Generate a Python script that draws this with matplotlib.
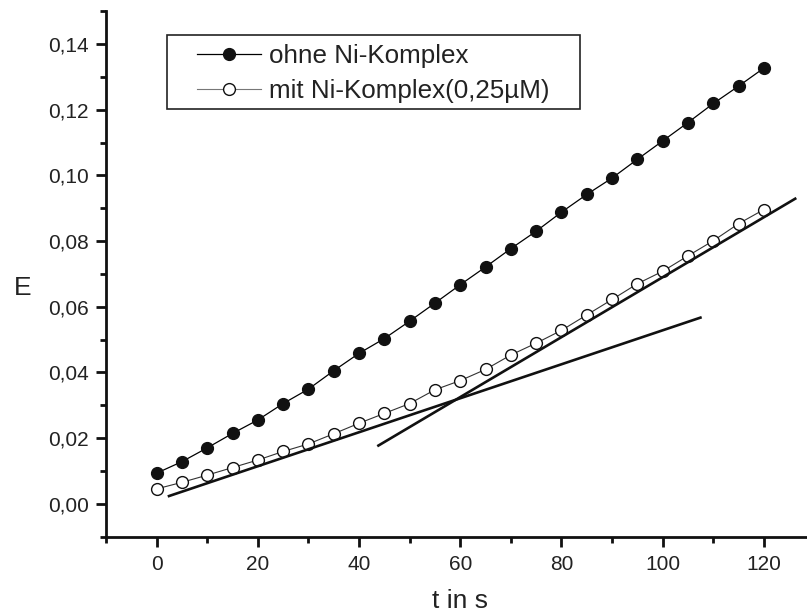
import matplotlib.pyplot as plt
from matplotlib.patches import Rectangle
from matplotlib.ticker import MultipleLocator, FuncFormatter

plt.rcParams['font.family'] = ['Liberation Sans', 'DejaVu Sans']

# Extinktion ueber die Zeit, alle 5 s gemessen
t = [0, 5, 10, 15, 20, 25, 30, 35, 40, 45, 50, 55, 60, 65, 70, 75, 80, 85, 90, 95, 100, 105, 110, 115, 120]
E_ohne = [0.0093, 0.0128, 0.0170, 0.0214, 0.0255, 0.0305, 0.0349, 0.0405, 0.0458, 0.0503, 0.0556, 0.0611,
          0.0667, 0.0721, 0.0777, 0.0830, 0.0888, 0.0942, 0.0992, 0.1049, 0.1105, 0.1161, 0.1219, 0.1272, 0.1327]
E_mit = [0.0045, 0.0065, 0.0087, 0.0110, 0.0133, 0.0159, 0.0182, 0.0213, 0.0245, 0.0275, 0.0305, 0.0347,
         0.0375, 0.0409, 0.0453, 0.0489, 0.0528, 0.0575, 0.0622, 0.0670, 0.0708, 0.0755, 0.0801, 0.0853, 0.0896]

# Tangenten (Anfangs- und Endsteigung)
tang1_t = [2.2, 107.7]
tang1_E = [0.0022, 0.0568]
tang2_t = [43.6, 126.4]
tang2_E = [0.0175, 0.0931]

fig = plt.figure(figsize=(8.07, 6.14), dpi=100)
ax = fig.add_axes([106 / 807, 0.1262, 0.878, 0.8555])

ax.plot(t, E_ohne, color='black', lw=0.9, marker='o', ms=8.5, mfc='#111111', mec='#111111',
        label='ohne Ni-Komplex')
ax.plot(t, E_mit, color='#333333', lw=0.8, marker='o', ms=8.5, mfc='white', mec='#111111', mew=1.0,
        label='mit Ni-Komplex(0,25µM)')
ax.plot(tang1_t, tang1_E, color='#111111', lw=1.9, solid_capstyle='butt')
ax.plot(tang2_t, tang2_E, color='#111111', lw=1.9, solid_capstyle='butt')

ax.set_xlim(-10, 130)
ax.set_ylim(-0.01, 0.15)
ax.xaxis.set_major_locator(MultipleLocator(20))
ax.xaxis.set_minor_locator(MultipleLocator(10))
ax.yaxis.set_major_locator(MultipleLocator(0.02))
ax.yaxis.set_minor_locator(MultipleLocator(0.01))

def fmt_x(v, pos):
    if v < 0 or v > 120:
        return ''
    return '%d' % round(v)

def fmt_y(v, pos):
    if v < -1e-9 or v > 0.141:
        return ''
    return ('%.2f' % abs(v)).replace('.', ',')

ax.xaxis.set_major_formatter(FuncFormatter(fmt_x))
ax.yaxis.set_major_formatter(FuncFormatter(fmt_y))

for side in ['top', 'right']:
    ax.spines[side].set_visible(False)
for side in ['left', 'bottom']:
    ax.spines[side].set_linewidth(2.0)
    ax.spines[side].set_color('#111111')

ax.tick_params(which='major', direction='out', length=7.5, width=2.0, color='#111111',
               labelsize=15, labelcolor='#222222')
ax.tick_params(which='minor', direction='out', length=4, width=2.0, color='#111111')
ax.tick_params(axis='x', which='major', pad=6)
ax.tick_params(axis='y', which='major', pad=5)

ax.set_xlabel('t in s', fontsize=19, color='#222222')
ax.xaxis.set_label_coords((460 - 106) / 708.7, -0.1)
ax.set_ylabel('E', fontsize=19, rotation=0, color='#222222', va='center', ha='center')
ax.yaxis.set_label_coords((23 - 106) / 708.7, (536 - 287) / 525.3)

# Legende ohne eigenen Rahmen, Rahmen separat als Rechteck
leg = ax.legend(loc='upper left', bbox_to_anchor=(197 / 807, 1 - 44 / 614),
                bbox_transform=fig.transFigure, borderaxespad=0, borderpad=0, fontsize=18.7,
                frameon=False, handlelength=2.45, handletextpad=0.32, labelspacing=0.44)
for txt in leg.get_texts():
    txt.set_color('#222222')
leg.get_lines()[1].set_color('#777777')

frame = Rectangle((166.7 / 807, 1 - 109 / 614), (580 - 166.7) / 807, 74 / 614,
                  transform=fig.transFigure, fill=False, edgecolor='#222222', linewidth=1.2)
fig.patches.append(frame)

fig.savefig('out.png', dpi=100)
